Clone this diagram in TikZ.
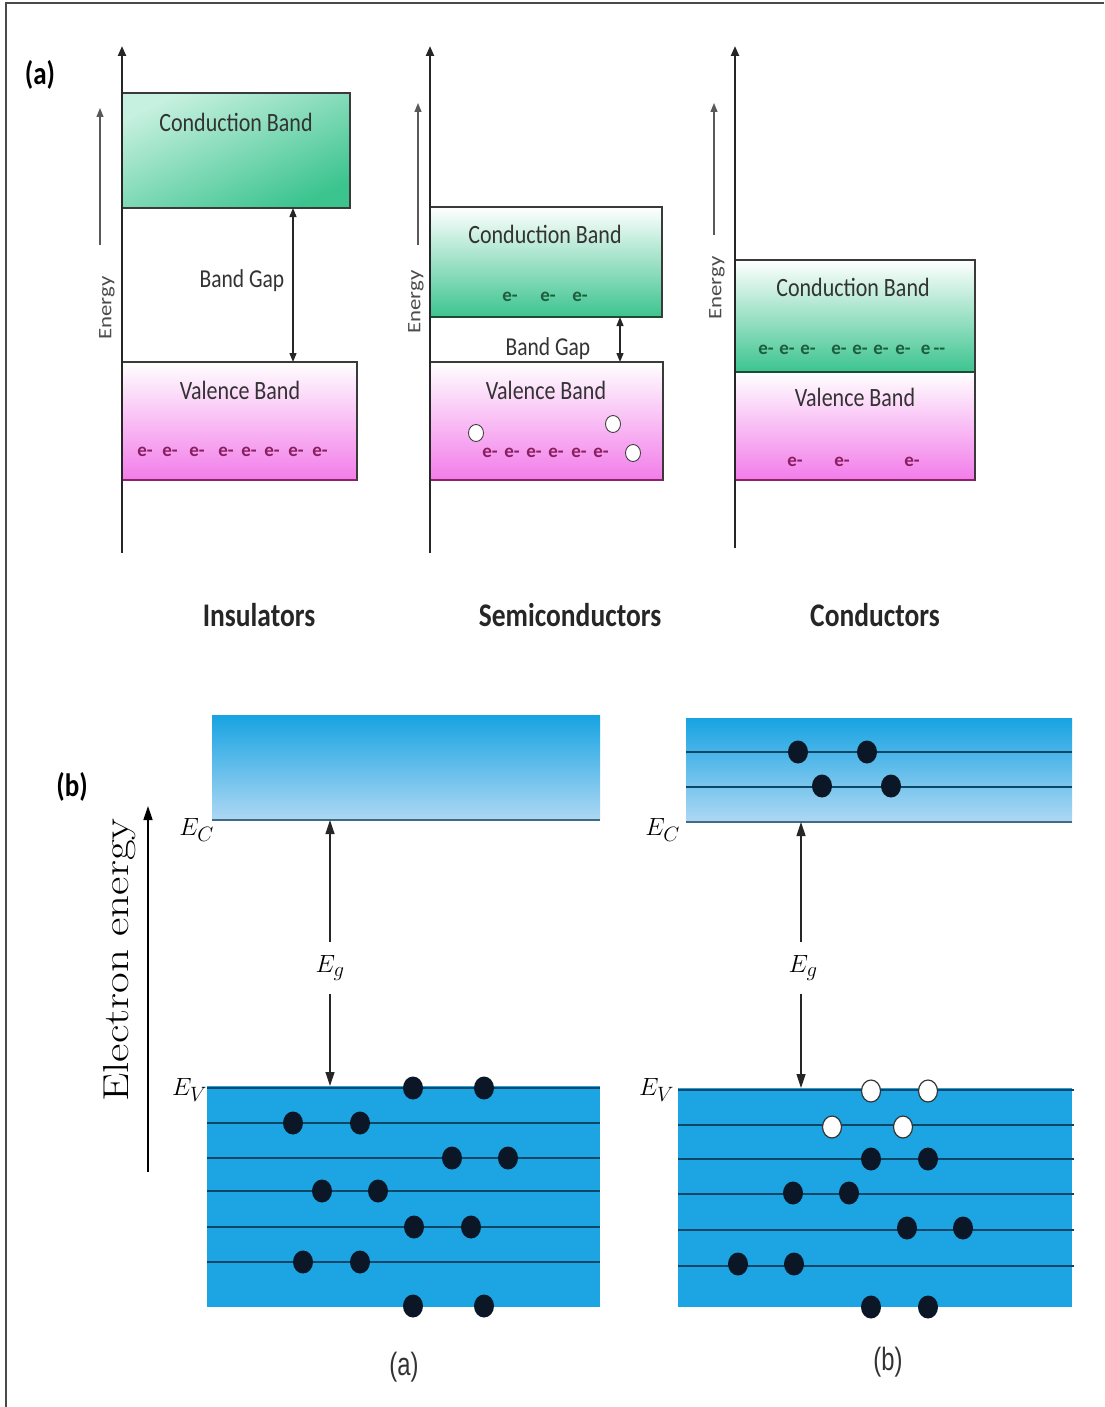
\documentclass[tikz,border=0pt]{standalone}
\usepackage{fontspec}
\newfontfamily\carl{Carlito}
\newfontfamily\libs{Liberation Sans}
\usetikzlibrary{arrows.meta,shapes.geometric}
\definecolor{frameline}{HTML}{4A4A4A}
\definecolor{cbgreen}{HTML}{3CC48F}
\definecolor{cblight}{HTML}{C6F0DF}
\definecolor{vbpink}{HTML}{F27CEA}
\definecolor{vbedge}{HTML}{8E2268}
\definecolor{cbedge}{HTML}{1F4A34}
\definecolor{boxedge}{HTML}{3A3A3A}
\definecolor{eviolet}{HTML}{8A1E5E}
\definecolor{egreen}{HTML}{1D5E3C}
\definecolor{skyA}{HTML}{17A3E2}
\definecolor{skyB}{HTML}{AED8F3}
\definecolor{valblue}{HTML}{1DA5E3}
\definecolor{lvl}{HTML}{0E4766}
\definecolor{elec}{HTML}{0B1626}
\newcommand{\tallt}[1]{\scalebox{1}[1.2]{#1}}
\begin{document}
\begin{tikzpicture}[x=1pt,y=-1pt,
  every node/.style={inner sep=0pt, outer sep=0pt},
  axisarrow/.style={line width=2.2pt, draw=black!85, -{Triangle[length=10pt,width=8pt]}},
  enarrow/.style={line width=1.2pt, draw=black!65, -{Triangle[length=9pt,width=7pt]}},
  gaparrow/.style={line width=1.3pt, draw=black!85, {Triangle[length=9pt,width=7pt]}-{Triangle[length=9pt,width=7pt]}},
  egarrow/.style={line width=1.2pt, draw=black!85, -{Triangle[length=14pt,width=9pt]}},
  bandbox/.style={draw=boxedge, line width=1.8pt, anchor=north west, shading=axis},
  cbshade/.style={top color=white, bottom color=cbgreen},
  vbshade/.style={top color=white, bottom color=vbpink},
  bandtext/.style={font=\carl\fontsize{22}{22}\selectfont, text=black!80},
  gaptext/.style={font=\carl\fontsize{21.5}{21.5}\selectfont, text=black!80},
  entext/.style={font=\carl\fontsize{19}{19}\selectfont, text=black!70, rotate=90},
  etext/.style={font=\carl\bfseries\fontsize{19}{19}\selectfont},
  hole/.style={ellipse, draw=black!75, fill=white, line width=0.9pt, minimum width=15pt, minimum height=17pt},
  matname/.style={font=\carl\bfseries\fontsize{27.5}{27.5}\selectfont, text=black!85},
  panel/.style={font=\carl\bfseries\fontsize{27}{27}\selectfont},
  elecdot/.style={ellipse, fill=elec, minimum width=20pt, minimum height=23pt},
  holedot/.style={ellipse, draw=black!80, line width=1.2pt, fill=white, minimum width=19pt, minimum height=22pt},
  level/.style={draw=lvl, line width=2.2pt},
  elabel/.style={font=\fontsize{30}{30}\selectfont},
  caption/.style={font=\libs\fontsize{28}{28}\selectfont, text=black!80}
]
\useasboundingbox (0,0) rectangle (1104,1407);
\fill[white] (0,0) rectangle (1104,1407);
\draw[frameline, line width=1.6pt] (6,1407) -- (6,3) -- (1104,3);

% ---------- top panel (a) ----------
\node[panel] (pa) at (40,75) {\tallt{(a)}};

% Insulator
\node[bandbox, top color=cblight, bottom color=cbgreen, shading angle=25, minimum width=228pt, minimum height=115pt] (icb) at (122,93) {};
\node[bandbox, vbshade, minimum width=235pt, minimum height=118pt] (ivb) at (122,362) {};
\draw[vbedge, line width=2.2pt] (ivb.south west) -- (ivb.south east);
\node[bandtext] (ict) at (236,122) {\tallt{Conduction Band}};
\node[bandtext] (ivt) at (240,390) {\tallt{Valence Band}};
\node[gaptext] (igt) at (242,281) {\tallt{Band Gap}};
\coordinate (igx) at (293,0);
\draw[gaparrow] (icb.south -| igx) -- (ivb.north -| igx);
\foreach \x [count=\i] in {145,170,197,226,249,272,296,320}
  \node[etext, text=eviolet] (ie\i) at (\x,452) {e-};
\coordinate (ia0) at (122,553);
\coordinate (ia1) at (122,46);
\draw[axisarrow] (ia0) -- (ia1);
\coordinate (ie0) at (100,245);
\coordinate (ie1) at (100,108);
\draw[enarrow] (ie0) -- (ie1);
\node[entext] (ien) at (107,308) {\scalebox{1.2}[1]{Energy}};

% Semiconductor
\node[bandbox, cbshade, minimum width=232pt, minimum height=110pt] (scb) at (430,207) {};
\node[bandbox, vbshade, minimum width=233pt, minimum height=118pt] (svb) at (430,362) {};
\draw[cbedge, line width=2.2pt] (scb.south west) -- (scb.south east);
\draw[vbedge, line width=2.2pt] (svb.south west) -- (svb.south east);
\node[bandtext] (sct) at (545,234) {\tallt{Conduction Band}};
\node[bandtext] (svt) at (546,390) {\tallt{Valence Band}};
\node[gaptext] (sgt) at (548,349) {\tallt{Band Gap}};
\coordinate (sgx) at (620,0);
\draw[gaparrow] (scb.south -| sgx) -- (svb.north -| sgx);
\foreach \x [count=\i] in {510,548,580}
  \node[etext, text=egreen] (sce\i) at (\x,297) {e-};
\foreach \x [count=\i] in {490,512,534,556,579,601}
  \node[etext, text=eviolet] (sve\i) at (\x,453) {e-};
\node[hole] (sh1) at (476,433) {};
\node[hole] (sh2) at (613,424) {};
\node[hole] (sh3) at (633,453) {};
\coordinate (sa0) at (430,553);
\coordinate (sa1) at (430,46);
\draw[axisarrow] (sa0) -- (sa1);
\coordinate (se0) at (418,245);
\coordinate (se1) at (418,103);
\draw[enarrow] (se0) -- (se1);
\node[entext] (sen) at (416,302) {\scalebox{1.2}[1]{Energy}};

% Conductor
\node[bandbox, cbshade, minimum width=240pt, minimum height=112pt] (ccb) at (735,260) {};
\node[bandbox, vbshade, minimum width=240pt, minimum height=108pt] (cvb) at (735,372) {};
\draw[cbedge, line width=2.2pt] (ccb.south west) -- (ccb.south east);
\draw[vbedge, line width=2.2pt] (cvb.south west) -- (cvb.south east);
\node[bandtext] (cct) at (853,287) {\tallt{Conduction Band}};
\node[bandtext] (cvt) at (855,397) {\tallt{Valence Band}};
\foreach \x [count=\i] in {766,787,808,839,860,881,903}
  \node[etext, text=egreen] (cce\i) at (\x,350) {e-};
\node[etext, text=egreen] (cce8) at (933,350) {e\,--};
\foreach \x [count=\i] in {795,842,912}
  \node[etext, text=eviolet] (cve\i) at (\x,462) {e-};
\coordinate (ca0) at (735,548);
\coordinate (ca1) at (735,46);
\draw[axisarrow] (ca0) -- (ca1);
\coordinate (ce0) at (714,235);
\coordinate (ce1) at (714,103);
\draw[enarrow] (ce0) -- (ce1);
\node[entext] (cen) at (717,288) {\scalebox{1.2}[1]{Energy}};

\node[matname] (mi) at (259,615) {\tallt{Insulators}};
\node[matname] (ms) at (570,615) {\tallt{Semiconductors}};
\node[matname] (mc) at (875,615) {\tallt{Conductors}};

% ---------- bottom panel (b) ----------
\node[panel] (pb) at (72,787) {\tallt{(b)}};
\coordinate (ba0) at (148,1172);
\coordinate (ba1) at (148,806);
\draw[line width=1.4pt, -{Triangle[length=14pt,width=9pt]}] (ba0) -- (ba1);
\node[rotate=90] (bet) at (120,960) {\scalebox{1.25}[1]{\fontsize{36}{36}\selectfont Electron energy}};

% left diagram
\node[anchor=north west, shading=axis, top color=skyA, bottom color=skyB, minimum width=388pt, minimum height=105pt] (lcb) at (212,715) {};
\draw[lvl!80, line width=1.6pt] (lcb.south west) -- (lcb.south east);
\node[anchor=north west, fill=valblue, minimum width=393pt, minimum height=221pt] (lvb) at (207,1086) {};
\foreach \y in {1088,1123,1158,1191,1227,1262}
  \draw[level] (207,\y) -- (600,\y);
\node[elabel, anchor=east] (lec) at (214,830) {$E_C$};
\node[elabel, anchor=east] (lev) at (207,1090) {$E_V$};
\node[elabel, inner sep=14pt] (leg) at (330,968) {$E_g$};
\coordinate (lgx) at (330,0);
\draw[egarrow] (leg.north) -- (lcb.south -| lgx);
\draw[egarrow] (leg.south) -- (lvb.north -| lgx);
\foreach \p [count=\i] in {(413,1088),(484,1088),(293,1123),(360,1123),(452,1158),(508,1158),(322,1191),(378,1191),(414,1227),(471,1227),(303,1262),(360,1262),(413,1306),(484,1306)}
  \node[elecdot] (le\i) at \p {};
\node[caption] (capa) at (404,1367) {\scalebox{0.85}[1.15]{(a)}};

% right diagram
\node[anchor=north west, shading=axis, top color=skyA, bottom color=skyB, minimum width=386pt, minimum height=104pt] (rcb) at (686,718) {};
\draw[lvl!80, line width=1.6pt] (rcb.south west) -- (rcb.south east);
\draw[level] (686,752) -- (1072,752);
\draw[level] (686,787) -- (1072,787);
\node[anchor=north west, fill=valblue, minimum width=394pt, minimum height=219pt] (rvb) at (678,1088) {};
\foreach \y in {1090,1125,1159,1194,1230,1266}
  \draw[level] (678,\y) -- (1074,\y);
\node[elabel, anchor=east] (rec) at (680,830) {$E_C$};
\node[elabel, anchor=east] (rev) at (674,1090) {$E_V$};
\node[elabel, inner sep=14pt] (reg) at (803,968) {$E_g$};
\coordinate (rgx) at (801,0);
\draw[egarrow] (reg.north -| rgx) -- (rcb.south -| rgx);
\draw[egarrow] (reg.south -| rgx) -- (rvb.north -| rgx);
\foreach \p [count=\i] in {(798,752),(867,752),(822,786),(891,786)}
  \node[elecdot] (rce\i) at \p {};
\foreach \p [count=\i] in {(871,1091),(928,1091),(832,1127),(903,1127)}
  \node[holedot] (rh\i) at \p {};
\foreach \p [count=\i] in {(871,1159),(928,1159),(793,1193),(849,1193),(907,1228),(963,1228),(738,1264),(794,1264),(871,1307),(928,1307)}
  \node[elecdot] (re\i) at \p {};
\node[caption] (capb) at (888,1362) {\scalebox{0.85}[1.15]{(b)}};
\end{tikzpicture}
\end{document}
